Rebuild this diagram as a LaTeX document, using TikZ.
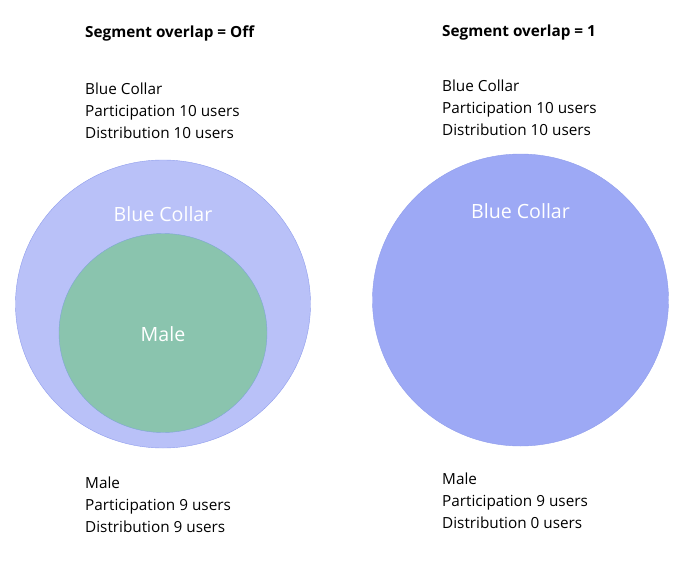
\documentclass[tikz,border=0pt]{standalone}
\usepackage{fontspec}
\setmainfont{Open Sans}
\usetikzlibrary{shapes.geometric}
\definecolor{collarfill}{HTML}{B9C1F8}
\definecolor{collarfull}{HTML}{9DA9F5}
\definecolor{collaredge}{HTML}{8F9DEC}
\definecolor{malefill}{HTML}{8AC4AE}
\definecolor{maleedge}{HTML}{7FA6D6}

\begin{document}
\begin{tikzpicture}[x=1pt,y=-1pt,
  info/.style={anchor=north west,inner sep=0pt,align=left,font=\fontsize{15.3}{22}\selectfont},
  heading/.style={anchor=west,inner sep=0pt,font=\fontsize{15.3}{18}\selectfont\bfseries},
  blob/.style={ellipse,draw,inner sep=0pt},
  inlabel/.style={text=white,font=\fontsize{19.6}{23}\selectfont}]
\useasboundingbox (0,0) rectangle (688,570);
% left: overlap off
\node [heading] (offhead) at (85,33) {Segment overlap = Off};
\node [info] (offtop) at (85,83) {Blue Collar\\Participation 10 users\\Distribution 10 users};
\node [blob,fill=collarfill,draw=collaredge,minimum width=295pt,minimum height=288pt] (offcollar) at (163,304) {};
\node [blob,fill=malefill,draw=maleedge,minimum width=208pt,minimum height=199pt] (offmale) at (163,333) {};
\node [inlabel] (offcollarlbl) at (163,214) {Blue Collar};
\node [inlabel] (offmalelbl) at (163,334) {Male};
\node [info] (offbottom) at (85,477) {Male\\Participation 9 users\\Distribution 9 users};
% right: overlap 1
\node [heading] (onehead) at (442,33) {Segment overlap = 1};
\node [info] (onetop) at (442,80) {Blue Collar\\Participation 10 users\\Distribution 10 users};
\node [blob,fill=collarfull,draw=collaredge,minimum width=296pt,minimum height=292pt] (onecollar) at (520.5,300) {};
\node [inlabel] (onecollarlbl) at (520.5,211) {Blue Collar};
\node [info] (onebottom) at (442,473) {Male\\Participation 9 users\\Distribution 0 users};
\end{tikzpicture}
\end{document}
